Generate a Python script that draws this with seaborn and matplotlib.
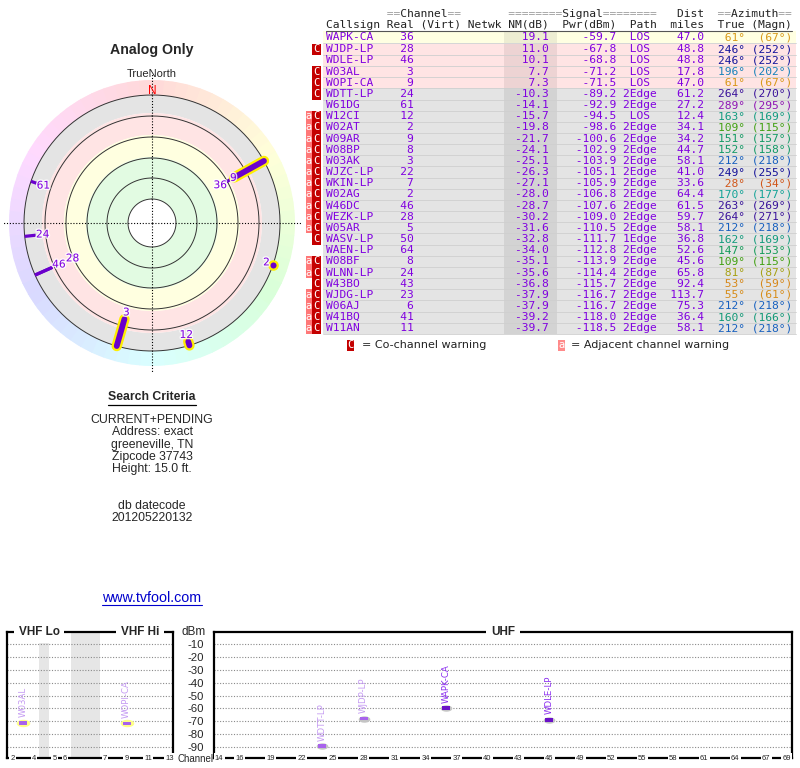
import colorsys
import numpy as np
import pandas as pd
import matplotlib
matplotlib.use("Agg")
import matplotlib.pyplot as plt
import matplotlib.patheffects as pe
from matplotlib.patches import Rectangle
import seaborn as sns

# ---------------- data ----------------
callsigns = ["WAPK-CA", "WJDP-LP", "WDLE-LP", "W03AL", "WOPI-CA", "WDTT-LP", "W61DG",
             "W12CI", "W02AT", "W09AR", "W08BP", "W03AK", "WJZC-LP", "WKIN-LP", "W02AG",
             "W46DC", "WEZK-LP", "W05AR", "WASV-LP", "WAEN-LP", "W08BF", "WLNN-LP",
             "W43BO", "WJDG-LP", "W06AJ", "W41BQ", "W11AN"]
real_ch = [36, 28, 46, 3, 9, 24, 61, 12, 2, 9, 8, 3, 22, 7, 2, 46, 28, 5, 50, 64, 8, 24,
           43, 23, 6, 41, 11]
nm_db = [19.1, 11.0, 10.1, 7.7, 7.3, -10.3, -14.1, -15.7, -19.8, -21.7, -24.1, -25.1,
         -26.3, -27.1, -28.0, -28.7, -30.2, -31.6, -32.8, -34.0, -35.1, -35.6, -36.8,
         -37.9, -37.9, -39.2, -39.7]
pwr_dbm = [-59.7, -67.8, -68.8, -71.2, -71.5, -89.2, -92.9, -94.5, -98.6, -100.6, -102.9,
           -103.9, -105.1, -105.9, -106.8, -107.6, -109.0, -110.5, -111.7, -112.8, -113.9,
           -114.4, -115.7, -116.7, -116.7, -118.0, -118.5]
path = ["LOS", "LOS", "LOS", "LOS", "LOS", "2Edge", "2Edge", "LOS", "2Edge", "2Edge",
        "2Edge", "2Edge", "2Edge", "2Edge", "2Edge", "2Edge", "2Edge", "2Edge", "1Edge",
        "2Edge", "2Edge", "2Edge", "2Edge", "2Edge", "2Edge", "2Edge", "2Edge"]
dist_mi = [47.0, 48.8, 48.8, 17.8, 47.0, 61.2, 27.2, 12.4, 34.1, 34.2, 44.7, 58.1, 41.0,
           33.6, 64.4, 61.5, 59.7, 58.1, 36.8, 52.6, 45.6, 65.8, 92.4, 113.7, 75.3, 36.4, 58.1]
az_true = [61, 246, 246, 196, 61, 264, 289, 163, 109, 151, 152, 212, 249, 28, 170, 263,
           264, 212, 162, 147, 109, 81, 53, 55, 212, 160, 212]
az_magn = [67, 252, 252, 202, 67, 270, 295, 169, 115, 157, 158, 218, 255, 34, 177, 269,
           271, 218, 169, 153, 115, 87, 59, 61, 218, 166, 218]
warn_co = [0, 1, 0, 1, 1, 1, 0, 1, 1, 1, 1, 1, 1, 1, 1, 1, 1, 1, 1, 0, 1, 1, 1, 1, 1, 1, 1]
warn_adj = [0, 0, 0, 0, 0, 0, 0, 1, 1, 1, 1, 1, 1, 1, 1, 1, 1, 1, 0, 0, 1, 1, 0, 1, 1, 1, 1]

# inner end of each station mark on the compass (ring units, outer ring = 128)
polar_r_inner = [85, 109, 109, 100, 94, 117, 122, 124, 128]
n_spec = 6  # stations shown on the spectrum panel (first rows of the table)

vhf_tick_ch = [2, 4, 5, 6, 7, 9, 11, 13]
uhf_tick_ch = [14, 16, 19, 22, 25, 28, 31, 34, 37, 40, 43, 46, 49, 52, 55, 58, 61, 64, 67, 69]
dbm_ticks = [-10, -20, -30, -40, -50, -60, -70, -80, -90]

search_lines = ["CURRENT+PENDING", "Address: exact", "greeneville, TN", "Zipcode 37743",
                "Height: 15.0 ft."]
datecode_lines = ["db datecode", "201205220132"]

# ---------------- style helpers ----------------
PURPLE = "#8000e0"
MARK = "#6a00cc"


def az_color(az):
    hue = np.interp(az, [0, 28, 61, 81, 109, 150, 200, 250, 290, 360],
                    [0, 20, 40, 58, 100, 155, 205, 242, 287, 360])
    v = np.interp(hue, [0, 22, 40, 60, 100, 165, 205, 218, 240, 255, 290, 360],
                  [.8, .82, .85, .63, .63, .6, .75, .75, .6, .6, .72, .8])
    return colorsys.hsv_to_rgb(hue / 360.0, 0.88, v)


sns.set_style("white")
plt.rcParams['font.family'] = ['Liberation Sans', 'DejaVu Sans']

fig = plt.figure(figsize=(8, 7.68), dpi=100)
fig.patch.set_facecolor("white")
ax0 = fig.add_axes([0, 0, 1, 1])
ax0.set_xlim(0, 800)
ax0.set_ylim(768, 0)
ax0.axis("off")

# ---------------- left texts ----------------
ax0.text(152, 50, "Analog Only", ha="center", va="center", fontsize=10.2, fontweight="bold")
ax0.text(152, 74, "TrueNorth", ha="center", va="center", fontsize=8)
ax0.text(152, 397.5, "Search Criteria", ha="center", va="center", fontsize=8.8, fontweight="bold")
ax0.plot([108, 196], [404.5, 404.5], color="black", lw=0.9)
for k, s in enumerate(search_lines):
    ax0.text(152, 420 + 12.3 * k, s, ha="center", va="center", fontsize=8.8)
for k, s in enumerate(datecode_lines):
    ax0.text(152, 506 + 12.0 * k, s, ha="center", va="center", fontsize=8.8)
ax0.text(152, 597.5, "www.tvfool.com", ha="center", va="center", fontsize=10.3, color="#0000cc")
ax0.plot([102, 202], [605, 605], color="#0000cc", lw=0.8)

# ---------------- table ----------------
MONO = "DejaVu Sans Mono"
FSM = 8.07
CW = 6.75
X0 = 326.0
RH = 11.16
n_rows = len(callsigns)


def cx(c):
    return X0 + c * CW


row_y = [37.0] + [49.3 + RH * (i - 1) for i in range(1, n_rows)]

hdr1 = " " * 9 + "==Channel==" + " " * 7 + "========Signal========" + " " * 3 + "Dist" + " " * 2 + "==Azimuth=="
hdr2 = "Callsign Real (Virt) Netwk NM(dB)  Pwr(dBm)  Path  miles  True (Magn)"
eq_only = "".join(ch if ch == "=" else " " for ch in hdr1)
words_only = "".join(" " if ch == "=" else ch for ch in hdr1)
ax0.text(cx(0), 14, eq_only, family=MONO, fontsize=FSM, color="#9a9a9a", ha="left", va="center")
ax0.text(cx(0), 14, words_only, family=MONO, fontsize=FSM, color="#222222", ha="left", va="center")
ax0.text(cx(0), 25, hdr2, family=MONO, fontsize=FSM, color="#222222", ha="left", va="center")
ax0.plot([326, 792], [31.2, 31.2], color="#555555", lw=0.8)

for i in range(n_rows):
    y = row_y[i]
    nm = nm_db[i]
    bg = "#ffffe2" if nm >= 15 else ("#ffe4e4" if nm >= 0 else "#e4e4e4")
    ax0.add_patch(Rectangle((323, y - RH / 2), 473, RH, fc=bg, ec="none", zorder=1))
    ax0.add_patch(Rectangle((504, y - RH / 2), 53, RH, fc="black", alpha=0.07, ec="none", zorder=1.1))
    ax0.plot([323, 796], [y + RH / 2, y + RH / 2], color="#cfcfcf", lw=0.6, zorder=1.2)
    if warn_adj[i]:
        ax0.add_patch(Rectangle((305.5, y - RH / 2), 6.8, RH, fc="#ff7878", ec="none", zorder=1))
        ax0.text(309, y, "a", family=MONO, fontsize=7.5, color="white", ha="center", va="center", zorder=2)
    if warn_co[i]:
        ax0.add_patch(Rectangle((312.3, y - RH / 2), 8.2, RH, fc="#c40000", ec="none", zorder=1))
        ax0.text(316.4, y, "C", family=MONO, fontsize=7.5, color="white", ha="center", va="center", zorder=2)
    line = f"{callsigns[i]:<8} {real_ch[i]:>4}{'':14}{nm:>6.1f}  {pwr_dbm[i]:>8.1f} {path[i]:^5}  {dist_mi[i]:>5.1f}"
    ax0.text(cx(0), y, line, family=MONO, fontsize=FSM, color=PURPLE, ha="left", va="center", zorder=3)
    az_s = f"{az_true[i]}°".rjust(4) + " " + f"({az_magn[i]}°)".rjust(6)
    ax0.text(cx(58), y, az_s, family=MONO, fontsize=FSM, color=az_color(az_true[i]),
             ha="left", va="center", zorder=3)

# legend under table
ax0.add_patch(Rectangle((346.5, 339.5), 7, 11, fc="#c40000", ec="none"))
ax0.text(350, 345, "C", family=MONO, fontsize=7.5, color="white", ha="center", va="center")
ax0.text(362, 345, "= Co-channel warning", family="DejaVu Sans", fontsize=8, color="#222222",
         ha="left", va="center")
ax0.add_patch(Rectangle((558, 339.5), 7, 11, fc="#ff8a8a", ec="none"))
ax0.text(561.5, 345, "a", family=MONO, fontsize=7.5, color="white", ha="center", va="center")
ax0.text(571, 345, "= Adjacent channel warning", family="DejaVu Sans", fontsize=8, color="#222222",
         ha="left", va="center")

# ---------------- compass (polar) ----------------
CXP, CYP, RMAX = 152, 223, 143
axp = fig.add_axes([(CXP - RMAX) / 800, (768 - CYP - RMAX) / 768, 2 * RMAX / 800, 2 * RMAX / 768],
                   projection="polar")
axp.set_theta_zero_location("N")
axp.set_theta_direction(-1)
axp.set_ylim(0, RMAX)
axp.axis("off")

seg = 5
centers = np.arange(seg / 2, 360, seg)
ring_cols = [colorsys.hsv_to_rgb(a / 360.0, 0.15, 1.0) for a in centers]
axp.bar(np.deg2rad(centers), RMAX - 128, width=np.deg2rad(seg), bottom=128,
        color=ring_cols, edgecolor=ring_cols, linewidth=0.5, zorder=1)
for r0, r1, col in [(110, 128, "#e4e4e4"), (88, 110, "#ffe4e4"), (66, 88, "#ffffe0"),
                    (24, 66, "#e2fbe2"), (0, 24, "#ffffff")]:
    axp.bar(0, r1 - r0, width=2 * np.pi, bottom=r0, color=col, edgecolor="none", zorder=1)
tt = np.linspace(0, 2 * np.pi, 400)
for r in [24, 45, 65, 86, 107, 128]:
    axp.plot(tt, np.full_like(tt, r), color="#333333", lw=0.7, zorder=2)
for th in [0, np.pi / 2, np.pi, 1.5 * np.pi]:
    axp.plot([th, th], [0, 150], color="black", lw=0.8, ls=(0, (1, 1.6)), clip_on=False, zorder=2.5)
axp.text(0, 132, "N", color="red", fontsize=8.5, ha="center", va="center", zorder=6)

n_polar = len(polar_r_inner)
# label radius: just inside the inner end; equal marks stack inward, a nearby longer mark steps outward
label_r = []
for i in range(n_polar):
    k = sum(1 for j in range(i + 1, n_polar)
            if az_true[j] == az_true[i] and polar_r_inner[j] == polar_r_inner[i])
    label_r.append(polar_r_inner[i] - 7 - 15 * k)
for i in range(n_polar):
    for j in range(n_polar):
        if (j != i and az_true[j] == az_true[i] and polar_r_inner[i] > polar_r_inner[j]
                and abs(label_r[i] - label_r[j]) < 14):
            label_r[i] = label_r[j] + 15

order = [i for i in range(n_polar) if real_ch[i] > 13] + [i for i in range(n_polar) if real_ch[i] <= 13]
for i in order:
    th = np.deg2rad(az_true[i])
    r0 = polar_r_inner[i]
    if real_ch[i] <= 13:
        if r0 >= 128:
            axp.plot([th], [128], marker="o", ms=6, mfc=MARK, mec="#ffee00", mew=1.6, zorder=5,
                     clip_on=False)
        else:
            axp.plot([th, th], [r0, 128], color="#ffee00", lw=7.5, solid_capstyle="round", zorder=4)
            axp.plot([th, th], [r0, 128], color=MARK, lw=4.2, solid_capstyle="round", zorder=5)
    else:
        axp.plot([th, th], [r0, 128], color=MARK, lw=2.3, solid_capstyle="butt", zorder=3)
    axp.text(th, label_r[i], str(real_ch[i]), color=PURPLE, fontsize=7.6, family="DejaVu Sans",
             ha="center", va="center", zorder=6,
             path_effects=[pe.withStroke(linewidth=2, foreground="white", alpha=0.8)])

# ---------------- spectrum panels ----------------
spec = pd.DataFrame({
    "callsign": callsigns[:n_spec],
    "ch": real_ch[:n_spec],
    "dbm": pwr_dbm[:n_spec],
    "co": warn_co[:n_spec],
})


def ch_mhz(ch):
    if ch <= 4:
        return 54 + 6 * (ch - 2) + 3
    if ch <= 6:
        return 76 + 6 * (ch - 5) + 3
    if ch <= 13:
        return 174 + 6 * (ch - 7) + 3
    return ch


knots_f = [54, 72, 76, 88, 174, 216]
knots_u = [54, 72, 77.6, 89.6, 106, 148]


def fwd(x):
    return np.interp(x, knots_f, knots_u)


def inv(u):
    return np.interp(u, knots_u, knots_f)


spec["x"] = [ch_mhz(c) for c in spec["ch"]]
spec["band"] = np.where(spec["ch"] <= 13, "VHF", "UHF")

YLIM = (-98.4, -0.7)
bar_marker = [(-1, -0.42), (1, -0.42), (1, 0.42), (-1, 0.42), (-1, -0.42)]
ell_t = np.linspace(0, 2 * np.pi, 40)
halo_marker = list(zip(np.cos(ell_t), 0.55 * np.sin(ell_t)))

axv = fig.add_axes([7 / 800, 10 / 768, 166 / 800, 126 / 768])
axu = fig.add_axes([214 / 800, 10 / 768, 578 / 800, 126 / 768])
axv.set_xscale("function", functions=(fwd, inv))
axv.set_xlim(54, 215)
axu.set_xlim(13.5, 69.5)

for ax in (axv, axu):
    ax.set_ylim(*YLIM)
    ax.set_yticks(dbm_ticks)
    ax.set_xticks([])
    ax.tick_params(length=0)
    ax.yaxis.grid(True, ls=(0, (1, 1.5)), color="#8a8a8a", lw=0.8)
    ax.xaxis.grid(False)
    ax.set_axisbelow(True)
    for sp in ax.spines.values():
        sp.set_visible(True)
        sp.set_color("black")
        sp.set_linewidth(1.6)

axv.set_yticklabels([])
axu.set_yticklabels([str(v) for v in dbm_ticks], fontsize=8.2)
axu.tick_params(axis="y", pad=7.5)

axv.axvspan(72, 76, color="#e6e6e6", zorder=0.2, lw=0)
axv.axvspan(88, 174, color="#e6e6e6", zorder=0.2, lw=0)

for ax, band, halo_col, halo_s in [(axv, "VHF", "#ffff88", 95), (axu, "UHF", "#c4c4c4", 70)]:
    d = spec[spec["band"] == band]
    sns.scatterplot(data=d, x="x", y="dbm", marker=halo_marker, s=halo_s, color=halo_col,
                    linewidth=0, ax=ax, zorder=3, legend=False)
    cols = ["#a862ec" if c else "#6a10c8" for c in d["co"]]
    sns.scatterplot(data=d, x="x", y="dbm", marker=bar_marker, s=34, hue="callsign",
                    palette=dict(zip(d["callsign"], cols)), linewidth=0, ax=ax, zorder=4, legend=False)
    for _, r in d.iterrows():
        ax.annotate(r["callsign"], (r["x"], r["dbm"]), xytext=(0, 4), textcoords="offset points",
                    rotation=90, ha="center", va="bottom", fontsize=6.2, family="DejaVu Sans",
                    color="#c49af2" if r["co"] else "#8a2cf0", zorder=5)
    ax.set_xlabel("")
    ax.set_ylabel("")

# channel labels sitting on the bottom line
for ch in vhf_tick_ch:
    axv.text(ch_mhz(ch), 0, str(ch), transform=axv.get_xaxis_transform(), ha="center", va="center",
             fontsize=5.5, bbox=dict(fc="white", ec="none", pad=0.8), zorder=6, clip_on=False)
for ch in uhf_tick_ch:
    axu.text(ch, 0, str(ch), transform=axu.get_xaxis_transform(), ha="center", va="center",
             fontsize=5.5, bbox=dict(fc="white", ec="none", pad=0.8), zorder=6, clip_on=False)

# band titles breaking the top line
for ax, xf, s in [(axv, 0.193, "VHF Lo"), (axv, 0.80, "VHF Hi"), (axu, 0.5, "UHF")]:
    ax.text(xf, 1.0, s, transform=ax.transAxes, ha="center", va="center", fontsize=8.5,
            fontweight="bold", bbox=dict(fc="white", ec="none", pad=3.5), zorder=6, clip_on=False)

ax0.text(194, 632, "dBm", ha="center", va="center", fontsize=8.5)
ax0.text(195, 759, "Channel", ha="center", va="center", fontsize=7.0)

fig.savefig("out.png", dpi=100, facecolor="white")
